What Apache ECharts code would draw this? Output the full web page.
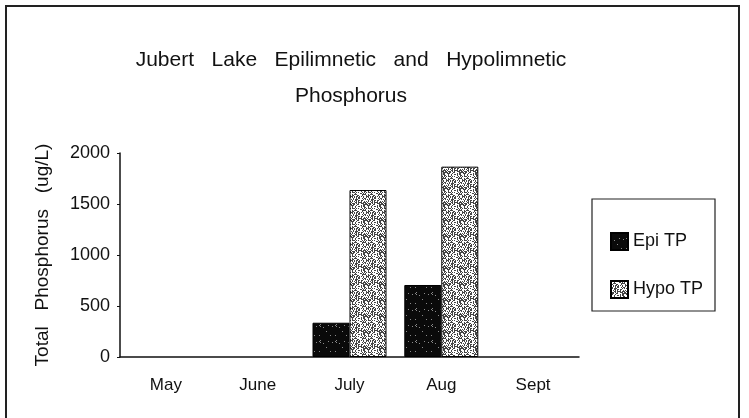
<!DOCTYPE html>
<html>
<head>
<meta charset="utf-8">
<script src="https://cdn.jsdelivr.net/npm/echarts@6/dist/echarts.min.js"></script>
<style>
  html, body { margin: 0; padding: 0; background: #fff; }
  #chart { width: 749px; height: 418px; }
</style>
</head>
<body>
<div id="chart"></div>
<script>
// data
const months = ['May', 'June', 'July', 'Aug', 'Sept'];
const epiTP = [null, null, 336, 706, null];
const hypoTP = [null, null, 1637, 1866, null];
const yTicks = [0, 500, 1000, 1500, 2000];

// little stipple tiles to imitate the printed fills (texture only)
function makeTile(size, bg, dot, density, seed) {
  const c = document.createElement('canvas');
  c.width = size; c.height = size;
  const ctx = c.getContext('2d');
  ctx.fillStyle = bg; ctx.fillRect(0, 0, size, size);
  ctx.fillStyle = dot;
  let s = seed;
  for (let y = 0; y < size; y++) {
    for (let x = 0; x < size; x++) {
      s = (s * 1103515245 + 12345) & 0x7fffffff;
      if ((s % 1000) / 1000 < density) ctx.fillRect(x, y, 1, 1);
    }
  }
  return c;
}
const hypoTile = makeTile(16, '#ffffff', '#444444', 0.45, 7);
const epiTile = makeTile(16, '#0a0a0a', '#8a8a8a', 0.04, 3);

const font = '"Liberation Sans", Arial, sans-serif';
const chart = echarts.init(document.getElementById('chart'));

chart.setOption({
  animation: false,
  grid: { left: 120, right: 170, top: 153, bottom: 61 },
  legend: {
    orient: 'vertical', left: 605, top: 227, itemGap: 29,
    itemWidth: 17, itemHeight: 17, icon: 'rect',
    textStyle: { fontFamily: font, fontSize: 18, color: '#111' },
    data: ['Epi TP', 'Hypo TP']
  },
  xAxis: {
    type: 'category', data: months,
    axisLine: { lineStyle: { color: '#111', width: 1.5 } },
    axisTick: { length: 3, lineStyle: { color: '#111' } },
    axisLabel: { fontFamily: font, fontSize: 17, color: '#111', margin: 20 }
  },
  yAxis: {
    type: 'value', min: yTicks[0], max: yTicks[yTicks.length - 1], interval: 500,
    name: 'Total   Phosphorus   (ug/L)', nameLocation: 'middle', nameGap: 68,
    nameTextStyle: { fontFamily: font, fontSize: 19, color: '#111' },
    axisLine: { show: true, lineStyle: { color: '#111', width: 1.5 } },
    axisTick: { show: true, length: 3, lineStyle: { color: '#111' } },
    splitLine: { show: false },
    axisLabel: { fontFamily: font, fontSize: 18, color: '#111', margin: 10, formatter: v => String(v) }
  },
  series: [
    {
      name: 'Epi TP', type: 'bar', data: epiTP, barWidth: 37, barGap: '0%',
      itemStyle: { color: { image: epiTile, repeat: 'repeat' }, borderColor: '#000', borderWidth: 1 }
    },
    {
      name: 'Hypo TP', type: 'bar', data: hypoTP, barWidth: 37,
      itemStyle: { color: { image: hypoTile, repeat: 'repeat' }, borderColor: '#000', borderWidth: 1 }
    }
  ],
  graphic: [
    { type: 'text', x: 351, y: 60, silent: true,
      style: { text: 'Jubert   Lake   Epilimnetic   and   Hypolimnetic', font: '21px ' + font, fill: '#111', align: 'center', verticalAlign: 'middle' } },
    { type: 'text', x: 351, y: 96, silent: true,
      style: { text: 'Phosphorus', font: '21px ' + font, fill: '#111', align: 'center', verticalAlign: 'middle' } },
    { type: 'rect', shape: { x: 6, y: 6, width: 733, height: 440 },
      style: { fill: 'none', stroke: '#222', lineWidth: 2 }, silent: true },
    { type: 'rect', shape: { x: 592, y: 199, width: 123, height: 112 },
      style: { fill: 'none', stroke: '#222', lineWidth: 1.2 }, silent: true }
  ]
});
</script>
</body>
</html>
